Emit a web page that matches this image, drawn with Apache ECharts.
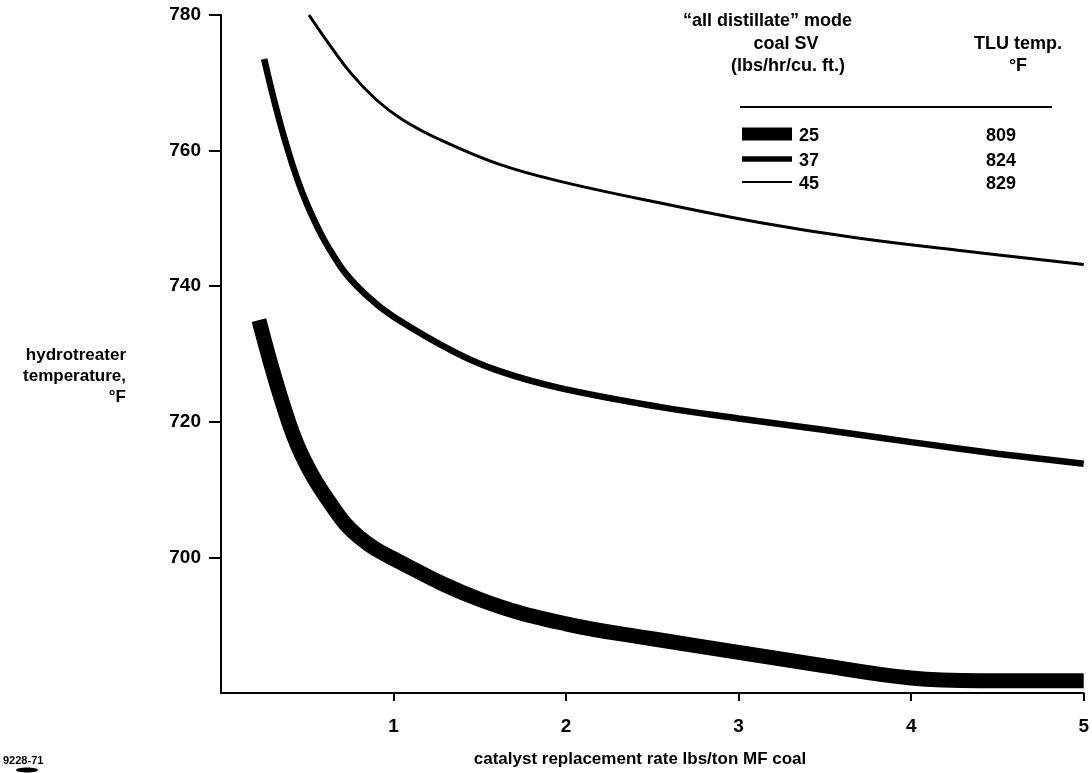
<!DOCTYPE html>
<html lang="en">
<head>
<meta charset="UTF-8">
<script src="https://cdn.jsdelivr.net/npm/echarts@6/dist/echarts.min.js"></script>
<style>
  html, body { margin: 0; padding: 0; background: #fff; }
  #main { width: 1092px; height: 773px; }
</style>
</head>
<body>
<div id="main"></div>
<script>
// catalyst replacement rate (lbs/ton MF coal) vs hydrotreater temperature (F)
var rate25 = [0.22, 0.35, 0.47, 0.66, 0.8, 1.0, 1.5, 2.0, 2.5, 3.0, 3.5, 4.0, 4.4, 5.0];
var temp25 = [735, 723.3, 715, 707, 703, 699.8, 693.8, 690.2, 688, 686, 684, 682.2, 681.8, 681.8];

var rate37 = [0.25, 0.37, 0.5, 0.69, 0.85, 1.0, 1.36, 1.61, 1.96, 2.54, 3.0, 3.5, 4.0, 4.5, 5.0];
var temp37 = [773.5, 761.6, 752, 743, 738.5, 735.5, 730.2, 727.5, 725, 722.2, 720.5, 718.8, 717, 715.3, 713.8];

var rate45 = [0.51, 0.61, 0.75, 0.9, 1.05, 1.27, 1.61, 1.96, 2.54, 3.12, 3.69, 4.27, 5.0];
var temp45 = [780, 776.3, 771.5, 767.5, 764.6, 761.6, 758, 755.5, 752.3, 749.4, 747.1, 745.3, 743.2];

var coalSV = ['25', '37', '45'];
var tluTemp = ['809', '824', '829'];

var xTicks = [1, 2, 3, 4, 5];
var yTicks = [700, 720, 740, 760, 780];

var FONT = '"Liberation Sans", Arial, sans-serif';
var widths = [15, 6.5, 3];

function pairs(xs, ys) {
    var out = [];
    for (var i = 0; i < xs.length; i++) out.push([xs[i], ys[i]]);
    return out;
}

var allData = [pairs(rate25, temp25), pairs(rate37, temp37), pairs(rate45, temp45)];

var series = [];
for (var i = 0; i < 3; i++) {
    series.push({
        name: coalSV[i],
        type: 'line',
        data: allData[i],
        showSymbol: false,
        smooth: 0.4,
        lineStyle: { color: '#000', width: widths[i], cap: 'butt' },
        silent: true
    });
}

// legend table built as graphics
function txt(s, x, y, align, size) {
    return {
        type: 'text',
        style: {
            text: s, x: x, y: y,
            textAlign: align || 'left', textVerticalAlign: 'middle',
            font: 'bold ' + (size || 18) + 'px ' + FONT,
            fill: '#000'
        }
    };
}

var graphics = [
    txt('\u201call distillate\u201d mode', 683, 21, 'left', 18),
    txt('coal SV', 786, 44, 'center'),
    txt('(lbs/hr/cu. ft.)', 788, 66, 'center'),
    txt('TLU temp.', 1018, 44, 'center'),
    txt('\u00b0F', 1018, 66, 'center'),
    { type: 'line', shape: { x1: 740, y1: 107, x2: 1052, y2: 107 }, style: { stroke: '#000', lineWidth: 2 } },
    // y axis title
    txt('hydrotreater', 126, 355, 'right', 17),
    txt('temperature,', 126, 376, 'right', 17),
    txt('\u00b0F', 126, 397, 'right', 17),
    // x axis title
    txt('catalyst replacement rate lbs/ton MF coal', 640, 759, 'center', 17),
    // figure number
    txt('9228-71', 3, 761, 'left', 11),
    { type: 'ellipse', shape: { cx: 27, cy: 770, rx: 11, ry: 2.5 }, style: { fill: '#000' } }
];

var rowY = [134, 159, 182];
for (var r = 0; r < coalSV.length; r++) {
    var h = widths[r] - (r === 0 ? 2 : 1);
    graphics.push({ type: 'rect', shape: { x: 742, y: rowY[r] - h / 2, width: 50, height: h }, style: { fill: '#000' } });
    graphics.push(txt(coalSV[r], 799, rowY[r] + 2, 'left'));
    graphics.push(txt(tluTemp[r], 1001, rowY[r] + 2, 'center'));
}

var axisFont = { color: '#000', fontSize: 19, fontWeight: 'bold', fontFamily: FONT };

var chart = echarts.init(document.getElementById('main'));
chart.setOption({
    backgroundColor: '#fff',
    animation: false,
    grid: { left: 221, right: 6, top: 15, bottom: 80, containLabel: false },
    xAxis: {
        type: 'value', min: 0, max: 5, interval: 1,
        axisLine: { onZero: false, lineStyle: { color: '#000', width: 2 } },
        axisTick: { show: true, length: 8, customValues: xTicks, lineStyle: { color: '#000', width: 2 } },
        axisLabel: Object.assign({ margin: 24, customValues: xTicks }, axisFont),
        splitLine: { show: false }
    },
    yAxis: {
        type: 'value', min: 680, max: 780, interval: 20,
        axisLine: { show: true, onZero: false, lineStyle: { color: '#000', width: 2 } },
        axisTick: { show: true, length: 12, customValues: yTicks, lineStyle: { color: '#000', width: 2 } },
        axisLabel: Object.assign({ margin: 20, customValues: yTicks }, axisFont),
        splitLine: { show: false }
    },
    graphic: graphics,
    series: series
});
</script>
</body>
</html>
